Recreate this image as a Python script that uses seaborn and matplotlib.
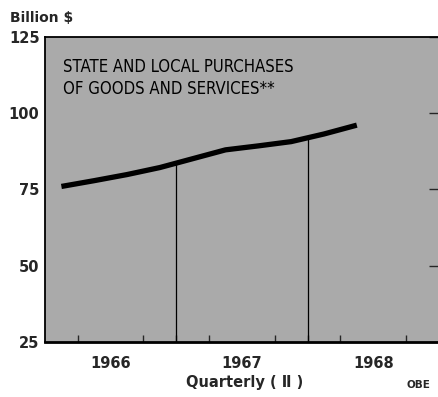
import matplotlib
matplotlib.use("Agg")
import matplotlib.pyplot as plt
import seaborn as sns
import pandas as pd
import numpy as np

# Data
years = [1966, 1967, 1968]
quarter_pos = [1966.125, 1966.375, 1966.625, 1966.875,
               1967.125, 1967.375, 1967.625, 1967.875,
               1968.125, 1968.375]
purchases = [76.0, 77.9, 79.9, 82.2, 85.1, 88.0, 89.3, 90.7, 93.2, 96.1]
y_ticks = [25, 50, 75, 100, 125]
title_text = "STATE AND LOCAL PURCHASES\nOF GOODS AND SERVICES**"

df = pd.DataFrame({"t": quarter_pos, "v": purchases})

sns.set_style("white")
plt.rcParams['font.family'] = ['DejaVu Sans']

fig = plt.figure(figsize=(4.38, 3.97), dpi=100)
ax = fig.add_axes([45/438, 1 - 342/397, 1 - 45/438 + 0.002, (342 - 37)/397])
ax.set_facecolor('#aaaaaa')

sns.lineplot(data=df, x="t", y="v", ax=ax, color='black', linewidth=3.8,
             solid_capstyle='butt')

# vertical year separators up to the line
for yb in [1967.0, 1968.0]:
    val = np.interp(yb, quarter_pos, purchases)
    ax.vlines(yb, 25, val, color='black', linewidth=0.9)

ax.set_xlim(1966.0, 1969.0)
ax.set_ylim(25, 125)
ax.set_yticks(y_ticks)
ax.set_yticklabels([str(v) for v in y_ticks], fontsize=10.5, fontweight='bold')
ax.tick_params(axis='y', direction='in', length=7, width=1, pad=4, right=True)

ax.set_xticks([y + 0.5 for y in years])
ax.set_xticklabels([str(y) for y in years], fontsize=10.5, fontweight='bold')
ax.set_xticks([1966 + q / 4 for q in range(1, 12)], minor=True)
ax.tick_params(axis='x', which='major', length=0, pad=10)
ax.tick_params(axis='x', which='minor', direction='in', length=5, width=1, bottom=True)
ax.set_xlabel("")
ax.set_ylabel("")

for s in ax.spines.values():
    s.set_color('black')
    s.set_linewidth(1.3)
ax.spines['bottom'].set_linewidth(2)

ax.text(0.045, 0.93, title_text, transform=ax.transAxes, ha='left', va='top',
        fontsize=12, family='DejaVu Sans', fontstretch='condensed',
        color='black', linespacing=1.25)

fig.text(10/438, 1 - 18/397, "Billion $", ha='left', va='center',
         fontsize=10, fontweight='bold')
fig.text(245/438, 1 - 383/397, "Quarterly ( Ⅱ )", ha='center', va='center',
         fontsize=10.5, fontweight='bold')
fig.text(430/438, 1 - 385/397, "OBE", ha='right', va='center',
         fontsize=7.5, fontweight='bold')

fig.savefig("out.png", dpi=100)
